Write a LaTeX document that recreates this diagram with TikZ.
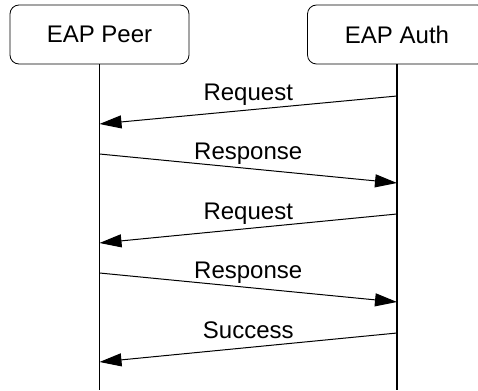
\documentclass[tikz,border=0pt]{standalone}
\usepackage{fontspec}
\setmainfont{Liberation Sans}
\usetikzlibrary{arrows.meta}

\begin{document}
\begin{tikzpicture}[
    x=1pt, y=-1pt,
    every node/.style={
        font=\fontsize{24}{28}\selectfont
    },
    actor/.style={
        draw,
        rounded corners=9pt,
        minimum width=179pt,
        minimum height=59pt,
        line width=0.8pt
    },
    msg/.style={-{Triangle[length=22pt,width=13pt]}, line width=1pt},
    lbl/.style={above, inner sep=4pt, text depth=5pt}
]
\useasboundingbox (0,0) rectangle (478,390);

% 참여자
\node[actor] (peer) at (99.5,34.5) {EAP Peer};
\node[actor] (auth) at (397,34.5) {EAP Auth};

% 생명선
\coordinate (peer-end) at (99.5,390);
\coordinate (auth-end) at (397,390);
\draw[line width=1.5pt] (peer) -- (peer-end);
\draw[line width=1.5pt] (auth) -- (auth-end);

% 메시지 끝점
\coordinate (req1-a) at (397,96);
\coordinate (req1-p) at (99.5,124);
\coordinate (res1-p) at (99.5,154);
\coordinate (res1-a) at (397,183);
\coordinate (req2-a) at (397,214);
\coordinate (req2-p) at (99.5,243);
\coordinate (res2-p) at (99.5,273);
\coordinate (res2-a) at (397,302);
\coordinate (ok-a) at (397,333);
\coordinate (ok-p) at (99.5,362);

% 메시지
\draw[msg] (req1-a) -- node[midway, lbl] {Request} (req1-p);
\draw[msg] (res1-p) -- node[midway, lbl] {Response} (res1-a);
\draw[msg] (req2-a) -- node[midway, lbl] {Request} (req2-p);
\draw[msg] (res2-p) -- node[midway, lbl] {Response} (res2-a);
\draw[msg] (ok-a) -- node[midway, lbl] {Success} (ok-p);

\end{tikzpicture}
\end{document}
